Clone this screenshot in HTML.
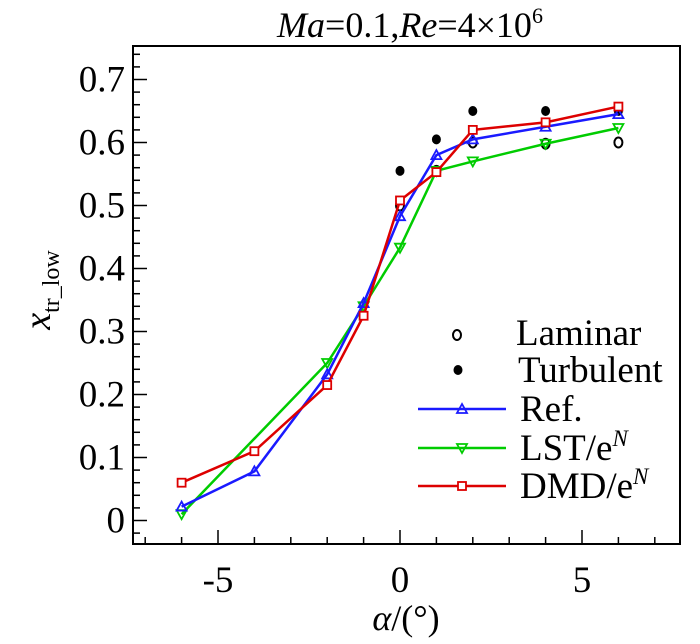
<!DOCTYPE html>
<html><head><meta charset="utf-8"><style>body{margin:0;background:#fff}svg{display:block;font-family:"Liberation Serif",serif}</style></head>
<body>
<svg id="c" width="700" height="644"></svg>
<script>
const alphaLam=[0,1,2,4,6];
const lamVals=[0.5,0.555,0.6,0.598,0.6];
const turbVals=[0.555,0.605,0.65,0.65,0.65];
const alphaRef=[-6,-4,-2,-1,0,1,2,4,6];
const refVals=[0.022,0.078,0.232,0.345,0.483,0.58,0.605,0.625,0.645];
const alphaLst=[-6,-2,-1,0,1,2,4,6];
const lstVals=[0.01,0.25,0.34,0.433,0.555,0.57,0.598,0.623];
const alphaDmd=[-6,-4,-2,-1,0,1,2,4,6];
const dmdVals=[0.06,0.11,0.215,0.325,0.508,0.553,0.62,0.632,0.657];
const xTicks=[-5,0,5];
const yTicks=[0,0.1,0.2,0.3,0.4,0.5,0.6,0.7];

const NS="http://www.w3.org/2000/svg",svg=document.getElementById('c');
const L=133,R=680,T=46,B=544;
const X=v=>400+v*36.4;
const Y=v=>520.5-v*630;
function el(t,a,p){const e=document.createElementNS(NS,t);for(const k in a)e.setAttribute(k,a[k]);(p||svg).appendChild(e);return e;}
const frame=el('rect',{x:L,y:T,width:R-L,height:B-T,fill:'none',stroke:'#000','stroke-width':2});


for(let v=-7;v<=7;v++){const major=v%5===0;el('line',{x1:X(v),x2:X(v),y1:B,y2:B-(major?14:7),stroke:'#000','stroke-width':1.5});}
xTicks.forEach(v=>{const t=el('text',{x:X(v),y:592,'font-size':37,'text-anchor':'middle'});t.textContent=v;

});
for(let i=-2;i<=38;i++){const v=i*0.02;const major=i%5===0;if(Y(v)<T+2||Y(v)>B-2)continue;el('line',{x1:L,x2:L+(major?14:7),y1:Y(v),y2:Y(v),stroke:'#000','stroke-width':1.5});}
yTicks.forEach(v=>{const t=el('text',{x:125,y:Y(v)+12,'font-size':37,'text-anchor':'end'});t.textContent=v===0?'0':v.toFixed(1);

});
function series(xs,ys,color,mk,name){
 const g=el('g',{});
 el('polyline',{points:xs.map((x,i)=>X(x)+','+Y(ys[i])).join(' '),fill:'none',stroke:color,'stroke-width':2.5},g);
 xs.forEach((x,i)=>marker(X(x),Y(ys[i]),color,mk,g));
}
function marker(cx,cy,color,mk,g){
 if(mk==='up')el('polygon',{points:`${cx},${cy-5} ${cx-5},${cy+4} ${cx+5},${cy+4}`,fill:'none',stroke:color,'stroke-width':1.8},g);
 else if(mk==='down')el('polygon',{points:`${cx},${cy+5} ${cx-5},${cy-4} ${cx+5},${cy-4}`,fill:'none',stroke:color,'stroke-width':1.8},g);
 else if(mk==='sq')el('rect',{x:cx-4,y:cy-4,width:8,height:8,fill:'#fff',stroke:color,'stroke-width':1.8},g);
 else if(mk==='oc')el('ellipse',{cx,cy,rx:4,ry:5,fill:'none',stroke:'#000','stroke-width':2},g);
 else if(mk==='fc')el('ellipse',{cx,cy,rx:4.5,ry:5,fill:'#000'},g);
}
const gl=el('g',{});
alphaLam.forEach((a,i)=>marker(X(a),Y(lamVals[i]),'#000','oc',gl));
const gt=el('g',{});
alphaLam.forEach((a,i)=>marker(X(a),Y(turbVals[i]),'#000','fc',gt));
series(alphaLst,lstVals,'#00cc00','down','lst-series');
series(alphaRef,refVals,'#1a1aff','up','ref-series');
series(alphaDmd,dmdVals,'#dd0000','sq','dmd-series');
const leg=el('g',{});
function lt(y,txt){const t=el('text',{x:520,y:y+12,'font-size':37},leg);t.innerHTML=txt;return t;}
marker(457,335,'#000','oc',leg);const t1=el('text',{x:516,y:345,'font-size':37},leg);t1.textContent='Laminar';
marker(458,370,'#000','fc',leg);const t2=el('text',{x:518,y:382,'font-size':37},leg);t2.textContent='Turbulent';
[[409,'#1a1aff','up','Ref.'],[448,'#00cc00','down','LST/e<tspan font-style="italic" font-size="23" dy="-14">N</tspan>'],[486,'#dd0000','sq','DMD/e<tspan font-style="italic" font-size="23" dy="-14">N</tspan>']].forEach(([y,c,m,txt])=>{
 el('line',{x1:418,x2:506,y1:y,y2:y,stroke:c,'stroke-width':2.5},leg);marker(462,y,c,m,leg);lt(y,txt);});
const ti=el('text',{x:410,y:37,'font-size':36,'text-anchor':'middle'});
ti.innerHTML='<tspan font-style="italic">Ma</tspan>=0.1,<tspan font-style="italic">Re</tspan>=4×10<tspan font-size="22" dy="-14">6</tspan>';

const xl=el('text',{x:406,y:630,'font-size':36,'text-anchor':'middle'});
xl.innerHTML='<tspan font-style="italic">α</tspan>/(°)';

const yl=el('text',{x:0,y:0,'font-size':38,transform:'translate(50,290) rotate(-90)','text-anchor':'middle'});
yl.innerHTML='<tspan font-style="italic">x</tspan><tspan font-size="24" dy="9">tr_low</tspan>';

</script>
</body></html>
